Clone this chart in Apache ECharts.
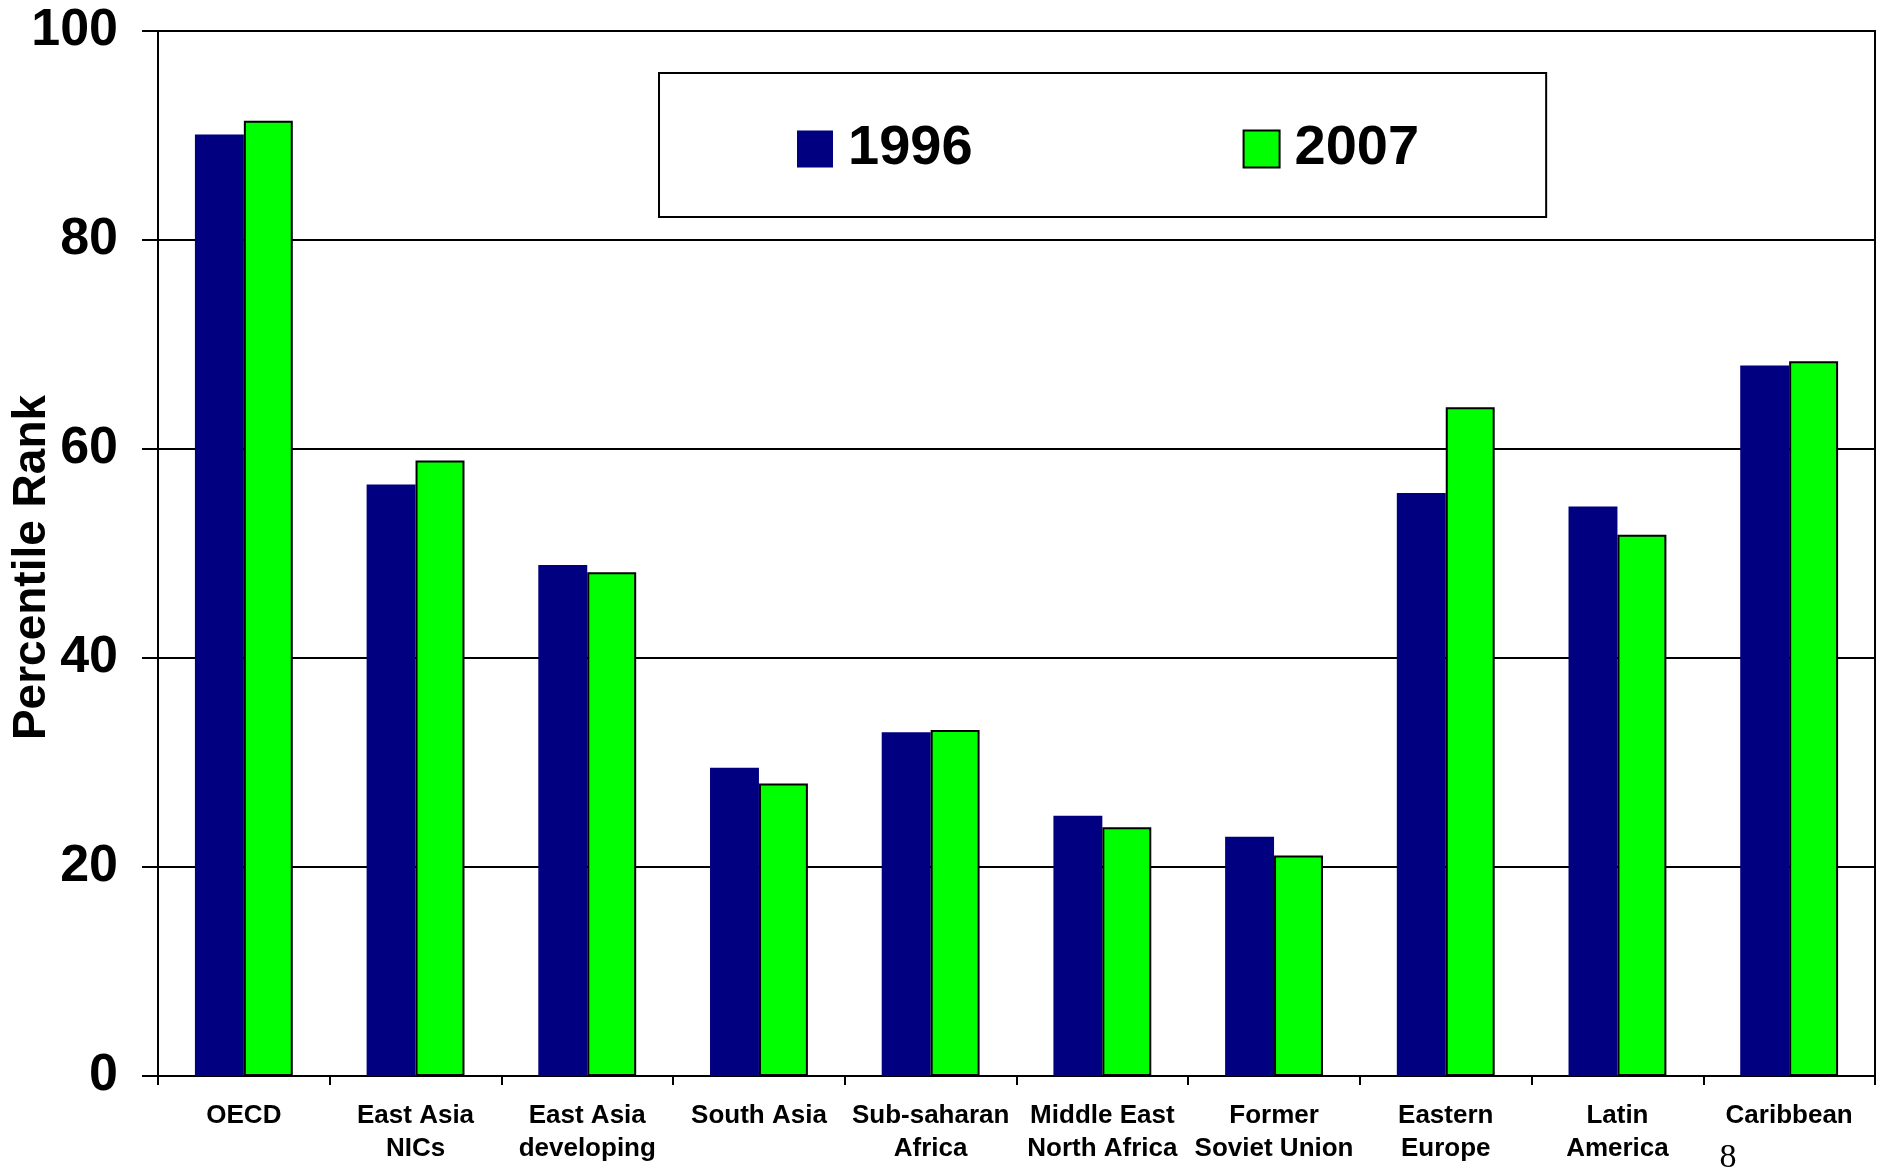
<!DOCTYPE html>
<html>
<head>
<meta charset="utf-8">
<script src="https://cdn.jsdelivr.net/npm/echarts@6/dist/echarts.min.js"></script>
<style>
html,body{margin:0;padding:0;background:#fff;}
#chart{width:1881px;height:1171px;}
</style>
</head>
<body>
<div id="chart"></div>
<script>
var categories = ['OECD', 'East Asia\nNICs', 'East Asia\ndeveloping', 'South Asia', 'Sub-saharan\nAfrica', 'Middle East\nNorth Africa', 'Former\nSoviet Union', 'Eastern\nEurope', 'Latin\nAmerica', 'Caribbean'];
var values1996 = [90.1, 56.6, 48.9, 29.5, 32.9, 24.9, 22.9, 55.8, 54.5, 68.0];
var values2007 = [91.4, 58.9, 48.2, 28.0, 33.1, 23.8, 21.1, 64.0, 51.8, 68.4];
var seriesNames = ['1996', '2007'];
var yAxisTitle = 'Percentile Rank';
var pageNumber = '8';

var FONT = '"Liberation Sans", Arial, Helvetica, sans-serif';
var chart = echarts.init(document.getElementById('chart'), null, {renderer: 'canvas'});
chart.setOption({
  animation: false,
  backgroundColor: '#fff',
  grid: {left: 158, right: 6, top: 31, bottom: 95, show: true, borderColor: '#000', borderWidth: 2, containLabel: false, outerBoundsMode: 'none'},
  legend: {
    left: 659, top: 73,
    orient: 'horizontal',
    borderColor: '#000', borderWidth: 2,
    padding: [48, 127, 40, 138],
    itemWidth: 36, itemHeight: 37, itemGap: 270,
    icon: 'rect',
    textStyle: {fontFamily: FONT, fontSize: 56, fontWeight: 'bold', color: '#000', padding: [6, 0, 0, 10]},
    data: seriesNames
  },
  xAxis: {
    type: 'category',
    data: categories,
    axisLine: {lineStyle: {color: '#000', width: 2}},
    axisTick: {show: true, length: 9, lineStyle: {color: '#000', width: 2}},
    axisLabel: {interval: 0, margin: 23, fontFamily: FONT, fontSize: 26, fontWeight: 'bold', color: '#000', lineHeight: 33}
  },
  yAxis: {
    type: 'value', min: 0, max: 100, interval: 20,
    name: yAxisTitle, nameLocation: 'middle', nameGap: 103, nameMoveOverlap: false,
    nameTextStyle: {fontFamily: FONT, fontSize: 46, fontWeight: 'bold', color: '#000', padding: [0, 28, 0, 0]},
    axisLine: {show: true, lineStyle: {color: '#000', width: 2}},
    axisTick: {show: true, length: 16, lineStyle: {color: '#000', width: 2}},
    axisLabel: {margin: 40, fontFamily: FONT, fontSize: 52, fontWeight: 'bold', color: '#000'},
    splitLine: {show: true, lineStyle: {color: '#000', width: 2}}
  },
  series: [
    {name: seriesNames[0], type: 'bar', data: values1996, barGap: '0%', barCategoryGap: '43%',
     itemStyle: {color: '#000080', borderColor: '#000080', borderWidth: 0}},
    {name: seriesNames[1], type: 'bar', data: values2007, barGap: '0%', barCategoryGap: '43%',
     itemStyle: {color: '#00ff00', borderColor: '#000', borderWidth: 2}}
  ],
  graphic: [{
    type: 'text', x: 1728, y: 1158,
    style: {text: pageNumber, fontFamily: '"Liberation Serif", "Times New Roman", serif', fontSize: 34, fill: '#000', textAlign: 'center', textVerticalAlign: 'middle'}
  }]
});
</script>
</body>
</html>
